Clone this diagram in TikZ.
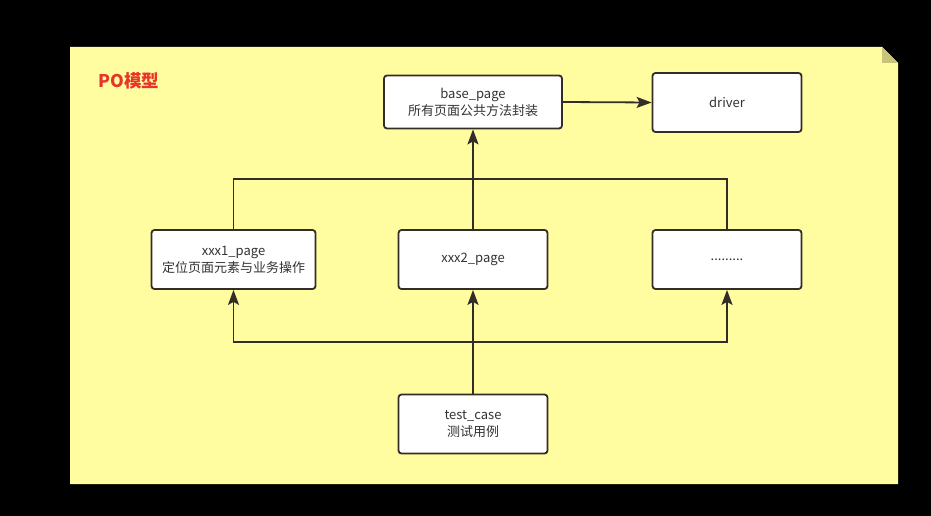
\documentclass[tikz,border=0pt]{standalone}
\usepackage{fontspec}
\setmainfont{Noto Sans CJK SC}
\usetikzlibrary{arrows.meta}
\definecolor{notefill}{RGB}{255,253,160}
\definecolor{foldfill}{RGB}{200,196,122}
\definecolor{edge}{RGB}{51,45,40}
\definecolor{titlered}{RGB}{232,53,42}
\tikzset{
  box/.style={draw=edge, line width=1.8pt, fill=white, rounded corners=3pt,
    align=center, inner sep=0pt, text=black!80,
    font=\fontsize{13}{17}\selectfont},
  conn/.style={draw=edge, line width=1.8pt},
  arr/.style={conn, -{Stealth[length=15pt,width=11pt,inset=3pt]}},
}
\begin{document}
\begin{tikzpicture}[x=1pt,y=-1pt]
\useasboundingbox (0,0) rectangle (931,516);
\fill[black] (0,0) rectangle (931,516);
% note
\fill[notefill] (70,47) -- (882,47) -- (898,63) -- (898,484) -- (70,484) -- cycle;
\fill[foldfill] (882,47) -- (898,63) -- (882,63) -- cycle;
\node[anchor=west, text=titlered, font=\fontsize{17.5}{20}\selectfont\bfseries] (title) at (95,81) {PO模型};
% boxes
\node[box, minimum width=178pt, minimum height=53pt] (base) at (473,102) {base\_page\\所有页面公共方法封装};
\node[box, minimum width=149pt, minimum height=59pt] (drv) at (727,102.5) {driver};
\node[box, minimum width=164pt, minimum height=59pt] (x1) at (233.5,259.5) {xxx1\_page\\定位页面元素与业务操作};
\node[box, minimum width=149pt, minimum height=59pt] (x2) at (473,259.5) {xxx2\_page};
\node[box, minimum width=149pt, minimum height=59pt] (x3) at (727,259.5) {.........};
\node[box, minimum width=149pt, minimum height=59pt] (tc) at (473,424) {test\_case\\测试用例};
% connectors
\coordinate (busTop) at (473,179);
\coordinate (busBot) at (473,342);
\draw[arr] (base.east) -- (drv.west);
\draw[conn] (x1.north) |- (busTop) -| (x3.north);
\draw[arr] (x2.north) -- (base.south);
\draw[arr] (tc.north) -- (x2.south);
\draw[arr] (busBot) -| (x1.south);
\draw[arr] (busBot) -| (x3.south);
\end{tikzpicture}
\end{document}
